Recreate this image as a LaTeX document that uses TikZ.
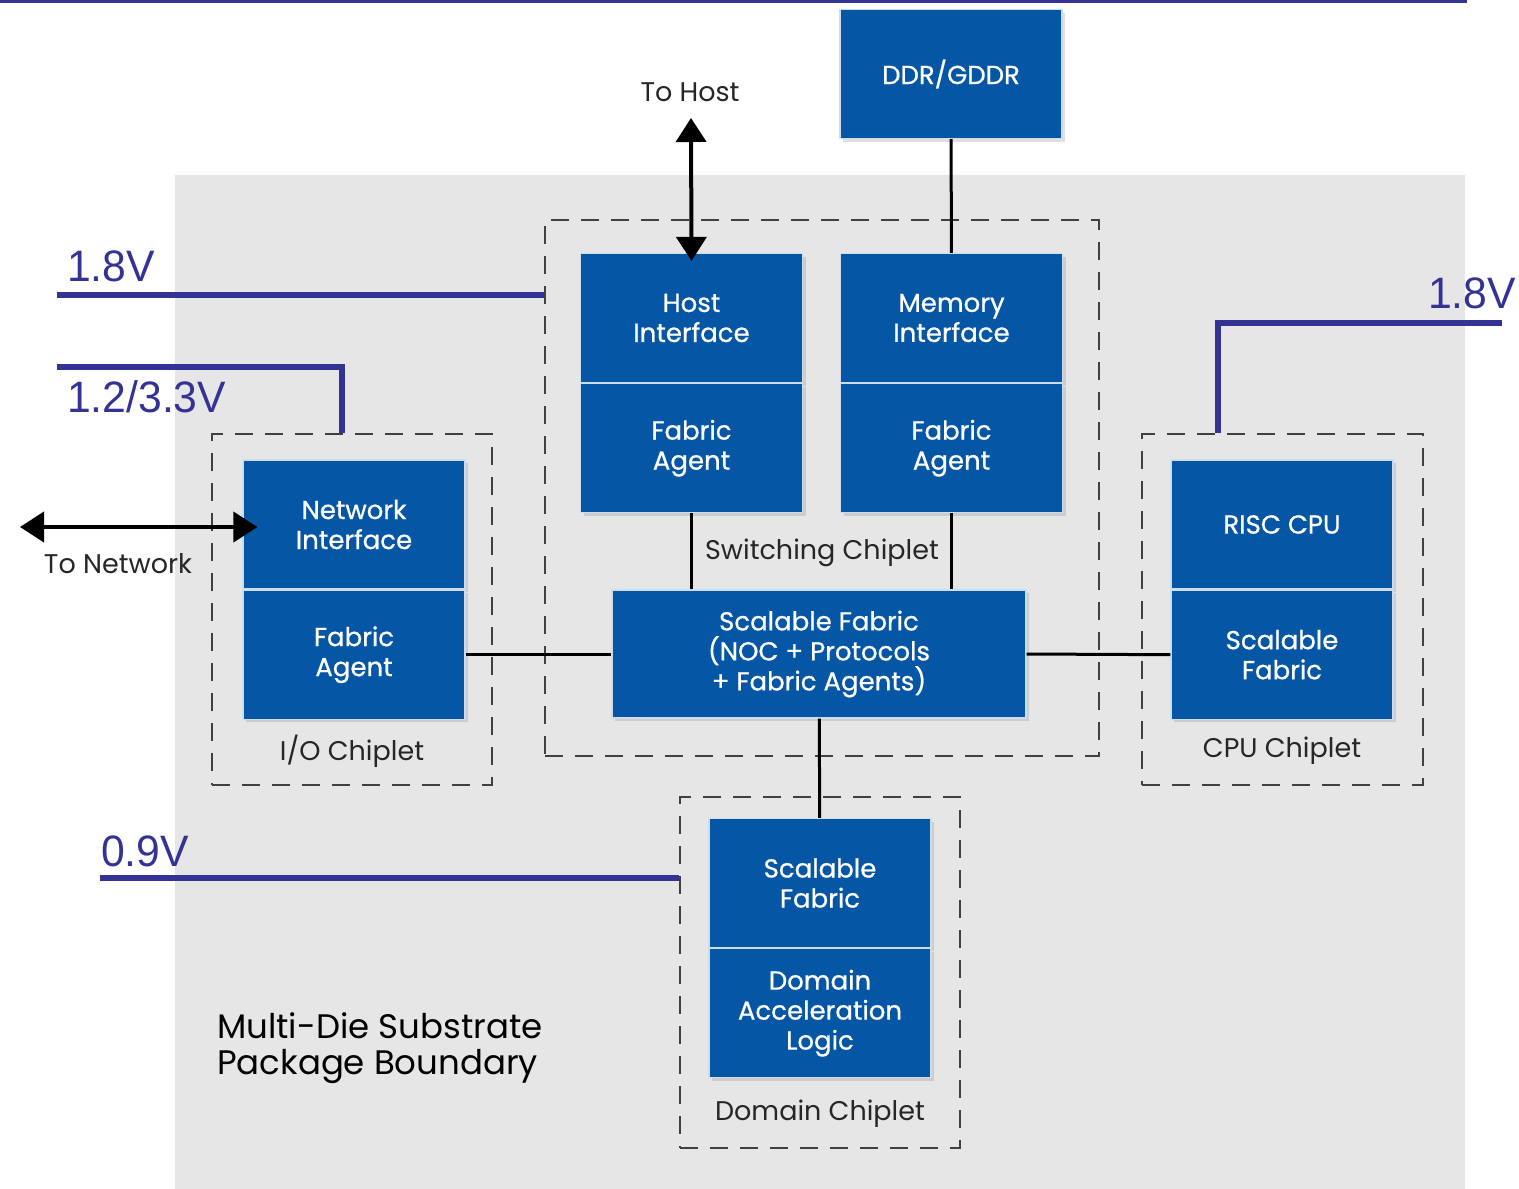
\documentclass[tikz,border=0pt]{standalone}
\usepackage{fontspec}
\setmainfont{Poppins}
\newfontfamily\blockfont[FakeBold=0.7]{Poppins}
\newfontfamily\voltfont[FakeStretch=0.97]{Liberation Sans}
\usetikzlibrary{positioning,arrows.meta,shadows}

\definecolor{chipblue}{RGB}{5,86,165}
\definecolor{voltpurple}{RGB}{51,51,150}
\definecolor{substrate}{RGB}{230,230,230}

\tikzset{
  block/.style={fill=chipblue, draw=white!80!chipblue, line width=1.2pt, text=white,
    align=center, minimum width=222pt, minimum height=129pt, inner sep=0pt,
    font=\blockfont\fontsize{26}{30}\selectfont,
    drop shadow={opacity=0.25, shadow xshift=3pt, shadow yshift=-3pt}},
  chipbox/.style={draw=black!75, dash pattern=on 18pt off 12pt, line width=1.8pt, inner sep=0pt},
  chiplabel/.style={font=\fontsize{27}{30}\selectfont, text=black!85},
  link/.style={line width=3pt},
  biarrow/.style={line width=4pt, {Triangle[length=24pt,width=30pt]}-{Triangle[length=24pt,width=30pt]}},
  volt/.style={draw=voltpurple, line width=6pt},
  voltlabel/.style={text=voltpurple, font=\voltfont\fontsize{44}{48}\selectfont, inner sep=0pt}
}

\begin{document}
\begin{tikzpicture}[x=1pt, y=-1pt]
  \useasboundingbox (0,0) rectangle (1519,1189);

  % package substrate
  \fill[substrate] (175,175) rectangle (1465,1189);
  \draw[voltpurple, line width=3pt] (0,1) -- (1467,1);
  \node[font=\fontsize{34}{36}\selectfont, align=left, anchor=west, inner sep=0pt] (substr) at (217,1048)
    {Multi-Die Substrate\\Package Boundary};

  % chiplet outlines
  \node[chipbox, minimum width=554pt, minimum height=536pt] (switchchip) at (822,488) {};
  \node[chipbox, minimum width=280pt, minimum height=351pt] (iochip) at (352,609.5) {};
  \node[chipbox, minimum width=281pt, minimum height=351pt] (cpuchip) at (1282.5,609.5) {};
  \node[chipbox, minimum width=280pt, minimum height=351pt] (domchip) at (820,972.5) {};

  \node[chiplabel] (switchlbl) at (822,553) {Switching Chiplet};
  \node[chiplabel] (iolbl) at (352,751) {I/O Chiplet};
  \node[chiplabel] (cpulbl) at (1282,751) {CPU Chiplet};
  \node[chiplabel] (domlbl) at (820,1114) {Domain Chiplet};

  % supply rails
  \coordinate (v18l) at (57,295);
  \coordinate (v12) at (57,367);
  \coordinate (v18r) at (1502,323);
  \coordinate (v09) at (100,878);
  \draw[volt] (v18l) -- (v18l -| switchchip.west);
  \draw[volt] (v12) -| ([xshift=-10pt]iochip.north);
  \draw[volt] (v18r) -| ([xshift=-64.5pt]cpuchip.north);
  \draw[volt] (v09) -- (v09 -| domchip.west);
  \node[voltlabel, anchor=base west] (v18ltxt) at (67,281) {1.8V};
  \node[voltlabel, anchor=base west] (v12txt) at (67,412) {1.2/3.3V};
  \node[voltlabel, anchor=base east] (v18rtxt) at (1516,308) {1.8V};
  \node[voltlabel, anchor=base west] (v09txt) at (101,866) {0.9V};

  % blocks
  \node[block] (ddr) at (951,74) {DDR/GDDR};
  \node[block] (hostif) at (691.5,318) {Host\\Interface};
  \node[block, below=0pt of hostif] (hostfa) {Fabric\\Agent};
  \node[block] (memif) at (951.5,318) {Memory\\Interface};
  \node[block, below=0pt of memif] (memfa) {Fabric\\Agent};
  \node[block, minimum width=414pt, minimum height=128pt] (fabric) at (819,654)
    {Scalable Fabric\\(NOC + Protocols\\+ Fabric Agents)};
  \node[block] (netif) at (354,524.5) {Network\\Interface};
  \node[block, below=0pt of netif] (netfa) {Fabric\\Agent};
  \node[block] (cpu) at (1282,524.5) {RISC CPU};
  \node[block, below=0pt of cpu] (cpufa) {Scalable\\Fabric};
  \node[block] (domsf) at (820,883) {Scalable\\Fabric};
  \node[block, below=0pt of domsf] (domlogic) {Domain\\Acceleration\\Logic};

  % links
  \draw[link] (ddr) -- (memif);
  \draw[link] (hostfa) -- (hostfa |- fabric.north);
  \draw[link] (memfa) -- (memfa |- fabric.north);
  \draw[link] (netfa.east) -- (fabric.west |- netfa.east);
  \draw[link] (fabric.east) -- (cpufa.west);
  \draw[link] (fabric) -- (domsf);

  % external ports
  \node[chiplabel] (tohost) at (690,92) {To Host};
  \coordinate (hostend) at (691,118);
  \draw[biarrow] (hostend) -- ([yshift=-8pt]hostif.north);
  \node[chiplabel] (tonet) at (118,564) {To Network};
  \coordinate (netend) at (20,527);
  \draw[biarrow] (netend) -- ([xshift=15pt]netend -| netif.west);
\end{tikzpicture}
\end{document}
